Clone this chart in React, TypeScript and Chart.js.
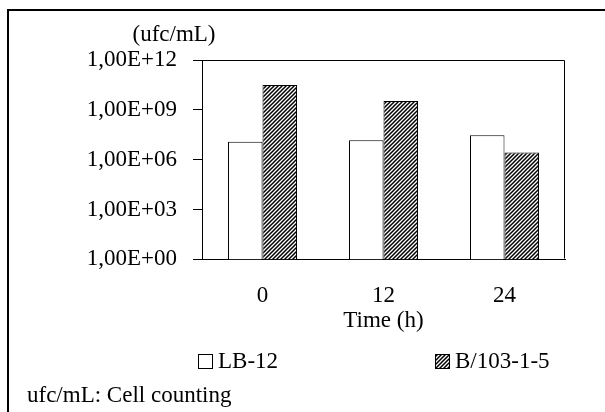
import { useEffect, useRef } from 'react';
import { Chart, registerables } from 'chart.js';

Chart.register(...registerables);

const timeLabels = ['0', '12', '24'];
const lb12Values = [1.2e7, 1.5e7, 3.0e7];
const b103Values = [3.1e10, 3.4e9, 2.7e6];
const yTickValues = [1, 1e3, 1e6, 1e9, 1e12];
const seriesNames = ['LB-12', 'B/103-1-5'];
const yUnitLabel = '(ufc/mL)';
const xTitle = 'Time (h)';
const footnote = 'ufc/mL: Cell counting';

const FONT = "'Liberation Serif', 'Times New Roman', serif";
const FS = 23;

function formatTick(v: number): string {
  const e = Math.round(Math.log10(v));
  return '1,00E+' + String(e).padStart(2, '0');
}

function makeHatch(): CanvasPattern | string {
  const c = document.createElement('canvas');
  c.width = 4;
  c.height = 4;
  const g = c.getContext('2d');
  if (!g) return '#888';
  g.fillStyle = '#fff';
  g.fillRect(0, 0, 4, 4);
  g.strokeStyle = '#000';
  g.lineWidth = 1.5;
  g.beginPath();
  g.moveTo(0, 4); g.lineTo(4, 0);
  g.moveTo(-1, 1); g.lineTo(1, -1);
  g.moveTo(3, 5); g.lineTo(5, 3);
  g.stroke();
  return g.createPattern(c, 'repeat') || '#888';
}

const decor = {
  id: 'decor',
  beforeDraw(chart: any) {
    const { ctx } = chart;
    ctx.save();
    ctx.fillStyle = '#000';
    ctx.fillRect(7, 9, 2, chart.height - 9);
    ctx.fillRect(7, 9, chart.width - 7, 2);
    ctx.restore();
  },
  afterDatasetsDraw(chart: any) {
    const { ctx, chartArea: a } = chart;
    ctx.save();
    ctx.strokeStyle = '#000';
    ctx.lineWidth = 1;
    ctx.beginPath();
    const l = Math.round(a.left) + 0.5;
    const r = Math.round(a.right) - 0.5;
    const t = Math.round(a.top) + 0.5;
    const b = Math.round(a.bottom) - 0.5;
    ctx.moveTo(l, b);
    ctx.lineTo(l, t);
    ctx.lineTo(r, t);
    ctx.lineTo(r, b);
    ctx.stroke();
    ctx.restore();
  },
  afterDraw(chart: any) {
    const { ctx, chartArea: a } = chart;
    ctx.save();
    ctx.font = `${FS}px ${FONT}`;
    ctx.fillStyle = '#000';
    // unit label above the y axis
    ctx.textAlign = 'center';
    ctx.textBaseline = 'middle';
    ctx.fillText(yUnitLabel, a.left - 28, a.top - 25);
    // legend
    const items = [a.left - 4, a.left + 233];
    const yMid = 361;
    chart.data.datasets.forEach((ds: any, i: number) => {
      const x = items[i];
      ctx.fillStyle = ds.backgroundColor;
      ctx.fillRect(x, yMid - 7, 14, 14);
      ctx.strokeStyle = '#000';
      ctx.lineWidth = 1;
      ctx.strokeRect(x + 0.5, yMid - 7 + 0.5, 14, 14);
      ctx.fillStyle = '#000';
      ctx.textAlign = 'left';
      ctx.textBaseline = 'middle';
      ctx.fillText(ds.label, x + 20, yMid + 1);
    });
    ctx.restore();
  },
};

export default function App() {
  const ref = useRef<HTMLCanvasElement | null>(null);
  useEffect(() => {
    if (!ref.current) return;
    Chart.defaults.font.family = FONT;
    Chart.defaults.color = '#000';
    const hatch = makeHatch();
    const chart = new Chart(ref.current, {
      type: 'bar',
      data: {
        labels: timeLabels,
        datasets: [
          {
            label: seriesNames[0],
            data: lb12Values,
            backgroundColor: '#ffffff',
            borderColor: '#000000',
            borderWidth: 1,
          },
          {
            label: seriesNames[1],
            data: b103Values,
            backgroundColor: hatch as any,
            borderColor: '#000000',
            borderWidth: 1,
          },
        ],
      },
      options: {
        responsive: false,
        animation: false,
        events: [],
        layout: { padding: { left: 27, right: 40, top: 60, bottom: 2 } },
        datasets: {
          bar: { categoryPercentage: 0.57, barPercentage: 1 },
        },
        plugins: {
          legend: { display: false },
          tooltip: { enabled: false },
          title: { display: false },
          subtitle: {
            display: true,
            text: footnote,
            position: 'bottom',
            align: 'start',
            color: '#000',
            font: { family: FONT, size: FS, weight: 'normal' },
            padding: { top: 0, bottom: 0 },
          },
        },
        scales: {
          x: {
            type: 'category',
            grid: { display: false, drawTicks: false },
            border: { display: true, color: '#000', width: 1 },
            ticks: { color: '#000', font: { family: FONT, size: FS }, padding: 23, maxRotation: 0 },
            title: {
              display: true,
              text: xTitle,
              color: '#000',
              font: { family: FONT, size: FS },
              padding: { top: 0, bottom: 48 },
            },
            afterFit(scale: any) {
              scale.height = 123;
            },
          },
          y: {
            type: 'logarithmic',
            min: 1,
            max: 1e12,
            grid: { drawOnChartArea: false, drawTicks: true, tickLength: 9, color: '#000', lineWidth: 1 },
            border: { display: true, color: '#000', width: 1 },
            ticks: {
              color: '#000',
              font: { family: FONT, size: FS },
              padding: 16,
              callback: (v: any) => formatTick(Number(v)),
            },
            afterBuildTicks(scale: any) {
              scale.ticks = yTickValues.map((v) => ({ value: v, major: false }));
            },
            afterFit(scale: any) {
              scale.width = 175;
            },
          },
        },
      },
      plugins: [decor],
    });
    return () => chart.destroy();
  }, []);
  return (
    <div style={{ position: 'fixed', left: 0, top: 0, width: 605, height: 412, background: '#fff' }}>
      <canvas ref={ref} width={605} height={412} />
    </div>
  );
}
